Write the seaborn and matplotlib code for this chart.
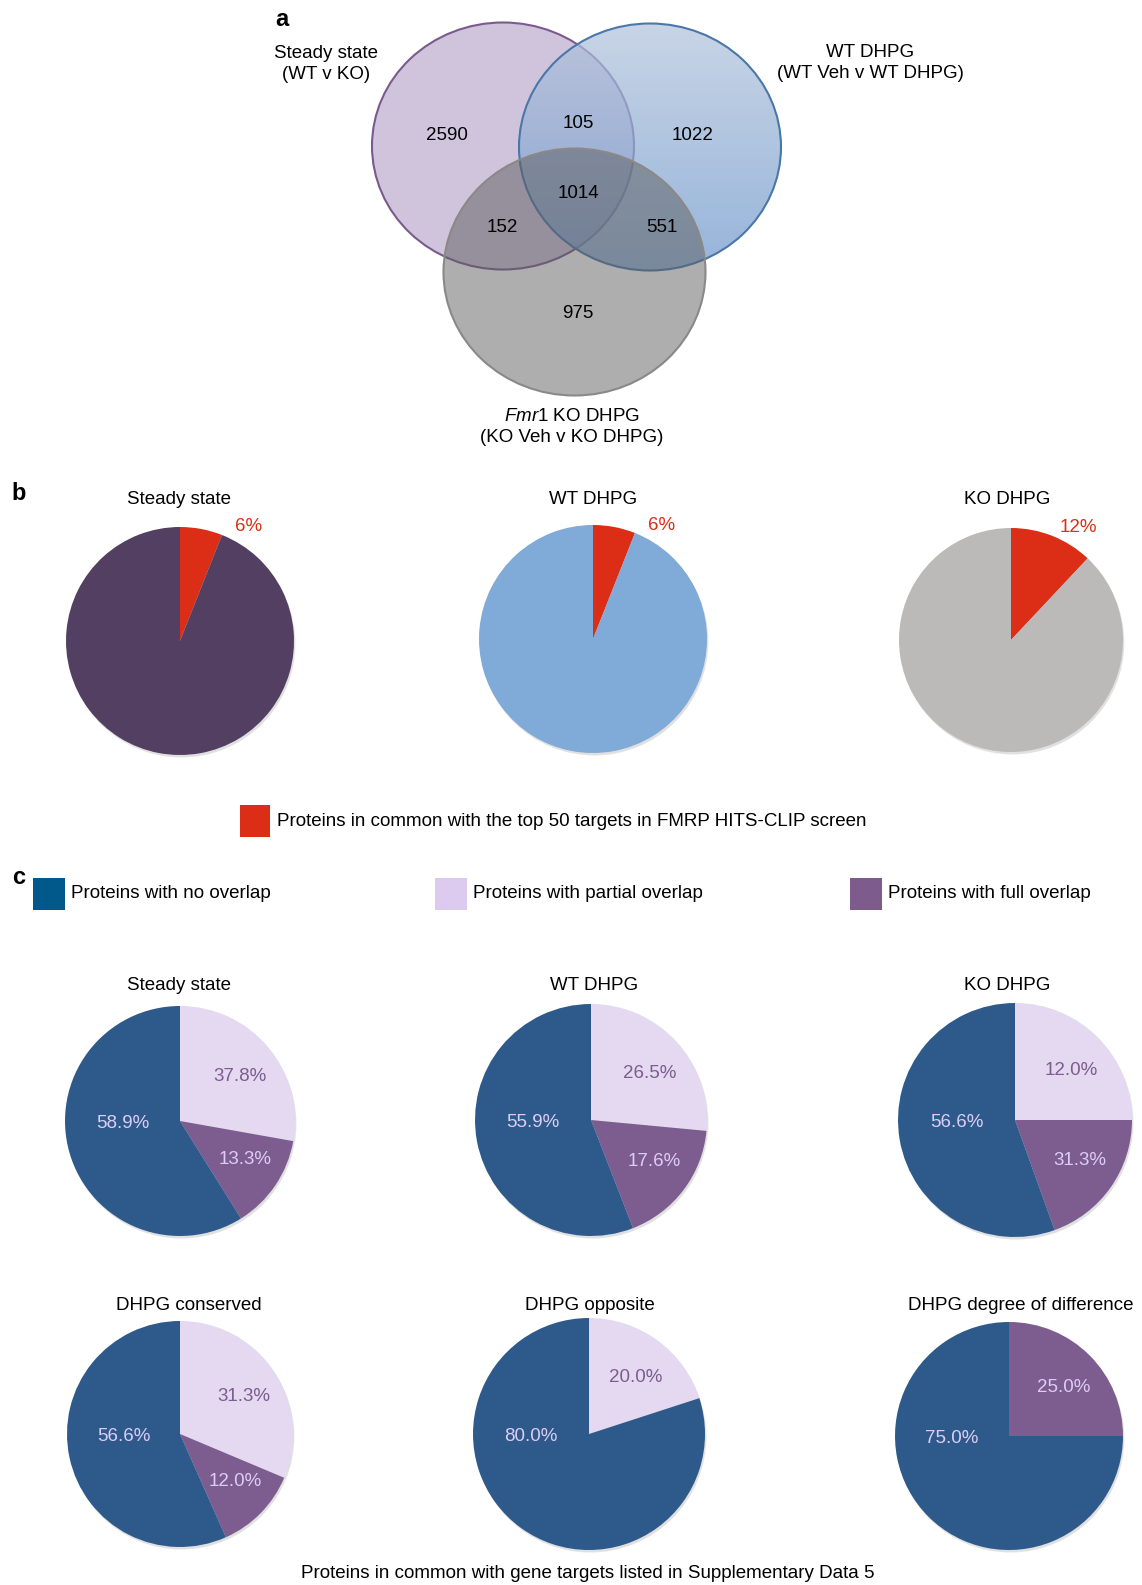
import numpy as np
import matplotlib
matplotlib.use("Agg")
import matplotlib.pyplot as plt
from matplotlib.patches import Ellipse, Rectangle, Circle
from matplotlib.colors import to_rgb
import seaborn as sns

sns.set_theme(style="white")
plt.rcParams['font.family'] = ['Liberation Sans', 'DejaVu Sans']
plt.rcParams['text.color'] = '#000000'
plt.rcParams['mathtext.fontset'] = 'custom'
plt.rcParams['mathtext.rm'] = 'Liberation Sans'
plt.rcParams['mathtext.it'] = 'Liberation Sans:italic'

# ---------------- data ----------------
venn_sets = ["Steady state\n(WT v KO)", "WT DHPG\n(WT Veh v WT DHPG)",
             "$\\mathit{Fmr1}$ KO DHPG\n(KO Veh v KO DHPG)"]
venn_regions = ["SS only", "SS&WT", "WT only", "all", "SS&KO", "WT&KO", "KO only"]
venn_counts = [2590, 105, 1022, 1014, 152, 551, 975]

b_titles = ["Steady state", "WT DHPG", "KO DHPG"]
b_common = [6, 6, 12]
b_labels = ["6%", "6%", "12%"]
b_legend = "Proteins in common with the top 50 targets in FMRP HITS-CLIP screen"

c_titles = ["Steady state", "WT DHPG", "KO DHPG",
            "DHPG conserved", "DHPG opposite", "DHPG degree of difference"]
c_partial = [27.8, 26.5, 25.0, 31.3, 20.0, 0.0]
c_full = [13.3, 17.6, 19.5, 12.0, 0.0, 25.0]
c_none = [58.9, 55.9, 55.5, 56.6, 80.0, 75.0]
c_partial_lbl = ["37.8%", "26.5%", "12.0%", "31.3%", "20.0%", ""]
c_full_lbl = ["13.3%", "17.6%", "31.3%", "12.0%", "", "25.0%"]
c_none_lbl = ["58.9%", "55.9%", "56.6%", "56.6%", "80.0%", "75.0%"]
c_legend = ["Proteins with no overlap", "Proteins with partial overlap",
            "Proteins with full overlap"]
c_footer = "Proteins in common with gene targets listed in Supplementary Data 5"

# ---------------- styles ----------------
W, H = 1142, 1585
RED = "#dc2e17"
b_colors = ["#523f61", "#80aad7", "#bbbab9"]
C_NONE, C_PART, C_FULL = "#2e5a8b", "#e4d9f0", "#7d5c8f"
LEG_COLS = ["#00598a", "#dccbee", "#7d5b8c"]
LBL_LIGHT, LBL_DARK = "#dccdf4", "#7d5c8f"
FS = 13.5
TXT = "#000000"

fig = plt.figure(figsize=(W / 100, H / 100), dpi=100)
ax0 = fig.add_axes([0, 0, 1, 1])
ax0.set_xlim(0, W)
ax0.set_ylim(H, 0)
ax0.axis("off")

# ---------------- panel a: venn ----------------
ell_w, ell_h = 262, 247
centers = [(503, 146), (650, 147), (574.5, 272)]
e1 = Ellipse(centers[0], ell_w, ell_h, facecolor="#cfc4dc", edgecolor="#7a5a8f", lw=1.5, zorder=1)
ax0.add_patch(e1)
e2 = Ellipse(centers[1], ell_w, ell_h, facecolor="none", edgecolor="none", zorder=2)
ax0.add_patch(e2)
top_c, bot_c = np.array(to_rgb("#b3c4dc")), np.array(to_rgb("#6d97cc"))
t = np.linspace(0, 1, 256)[:, None]
grad = np.zeros((256, 2, 4))
grad[..., :3] = (top_c[None, None, :] * (1 - t[..., None]) + bot_c[None, None, :] * t[..., None])
grad[..., 3] = 0.72
cx, cy = centers[1]
im = ax0.imshow(grad, extent=[cx - ell_w / 2, cx + ell_w / 2, cy + ell_h / 2, cy - ell_h / 2],
                origin="upper", aspect="auto", zorder=2, interpolation="bilinear")
im.set_clip_path(e2)
ax0.add_patch(Ellipse(centers[1], ell_w, ell_h, facecolor="none", edgecolor="#4a77aa", lw=1.5, zorder=3))
ax0.add_patch(Ellipse(centers[2], ell_w, ell_h, facecolor="#5e5e5e", alpha=0.5, edgecolor="none", zorder=4))
ax0.add_patch(Ellipse(centers[2], ell_w, ell_h, facecolor="none", edgecolor="#8b8987", lw=1.5, zorder=5))
ax0.set_xlim(0, W)
ax0.set_ylim(H, 0)

region_pos = [(447, 136), (578, 123), (693, 136), (578, 194), (502, 228), (662, 228), (578, 314)]
for (x, y), n in zip(region_pos, venn_counts):
    ax0.text(x, y, str(n), fontsize=FS, ha="center", va="center", zorder=10, color=TXT)
ax0.text(326, 64, venn_sets[0], fontsize=FS, ha="center", va="center", linespacing=1.3, color=TXT)
ax0.text(870, 63, venn_sets[1], fontsize=FS, ha="center", va="center", linespacing=1.3, color=TXT)
ax0.text(572, 427, venn_sets[2], fontsize=FS, ha="center", va="center", linespacing=1.3, color=TXT)

# panel letters
ax0.text(282, 19, "a", fontsize=17, fontweight="bold", ha="center", va="center", color=TXT)
ax0.text(19, 493, "b", fontsize=17, fontweight="bold", ha="center", va="center", color=TXT)
ax0.text(19, 877, "c", fontsize=17, fontweight="bold", ha="center", va="center", color=TXT)


def pie_axes(cx, cy, r):
    return fig.add_axes([(cx - r) / W, 1 - (cy + r) / H, 2 * r / W, 2 * r / H])


def finish(a):
    a.set_xlim(-1, 1)
    a.set_ylim(-1, 1)
    a.set_aspect("equal")
    a.axis("off")
    a.add_patch(Circle((0.012, -0.022), 1.0, facecolor="#000000", alpha=0.12,
                       zorder=0, clip_on=False))


# ---------------- panel b ----------------
b_centers = [(180, 641, 114), (593, 639, 114), (1011, 640, 112)]
b_title_x = [179, 593, 1007]
for i, (cx, cy, r) in enumerate(b_centers):
    a = pie_axes(cx, cy, r)
    a.pie([b_common[i], 100 - b_common[i]], colors=[RED, b_colors[i]], startangle=90,
          counterclock=False, radius=1, wedgeprops=dict(linewidth=0))
    finish(a)
    a.text(0.6, 1.0, b_labels[i], color=RED, fontsize=FS, ha="center", va="center", clip_on=False)
    ax0.text(b_title_x[i], 500, b_titles[i], fontsize=FS, ha="center", va="center", color=TXT)

ax0.add_patch(Rectangle((240, 805), 30, 32, facecolor=RED, edgecolor="none"))
ax0.text(277, 821, b_legend, fontsize=FS, ha="left", va="center", color=TXT)

# ---------------- panel c legend ----------------
for x, col, lab in zip([33, 435, 850], LEG_COLS, c_legend):
    ax0.add_patch(Rectangle((x, 878), 32, 32, facecolor=col, edgecolor="none"))
    ax0.text(x + 38, 894, lab, fontsize=FS, ha="left", va="center", color=TXT)

# ---------------- panel c pies ----------------
c_centers = [(180, 1121, 115), (591, 1120, 116), (1015, 1120, 117),
             (180, 1434, 113), (589, 1434, 116), (1009, 1436, 114)]
c_title_x = [179, 594, 1007, 189, 590, 1021]
c_title_y = [986, 986, 986, 1305, 1305, 1305]
for i, (cx, cy, r) in enumerate(c_centers):
    a = pie_axes(cx, cy, r)
    sizes, cols, lbls, lcols = [], [], [], []
    for v, col, lb, lc in [(c_partial[i], C_PART, c_partial_lbl[i], LBL_DARK),
                           (c_full[i], C_FULL, c_full_lbl[i], LBL_LIGHT)]:
        if v > 0:
            sizes.append(v); cols.append(col); lbls.append(lb); lcols.append(lc)
    sizes.append(c_none[i]); cols.append(C_NONE)
    wedges, _ = a.pie(sizes, colors=cols, startangle=90, counterclock=False, radius=1,
                      wedgeprops=dict(linewidth=0))
    finish(a)
    for w, lb, lc in zip(wedges[:-1], lbls, lcols):
        mid = np.deg2rad((w.theta1 + w.theta2) / 2)
        a.text(0.68 * np.cos(mid), 0.6 * np.sin(mid), lb, color=lc, fontsize=FS,
               ha="center", va="center")
    a.text(-0.5, -0.02, c_none_lbl[i], color=LBL_LIGHT, fontsize=FS, ha="center", va="center")
    ax0.text(c_title_x[i], c_title_y[i], c_titles[i], fontsize=FS, ha="center", va="center", color=TXT)

ax0.text(588, 1573, c_footer, fontsize=FS, ha="center", va="center", color=TXT)

fig.savefig("out.png", dpi=100)
